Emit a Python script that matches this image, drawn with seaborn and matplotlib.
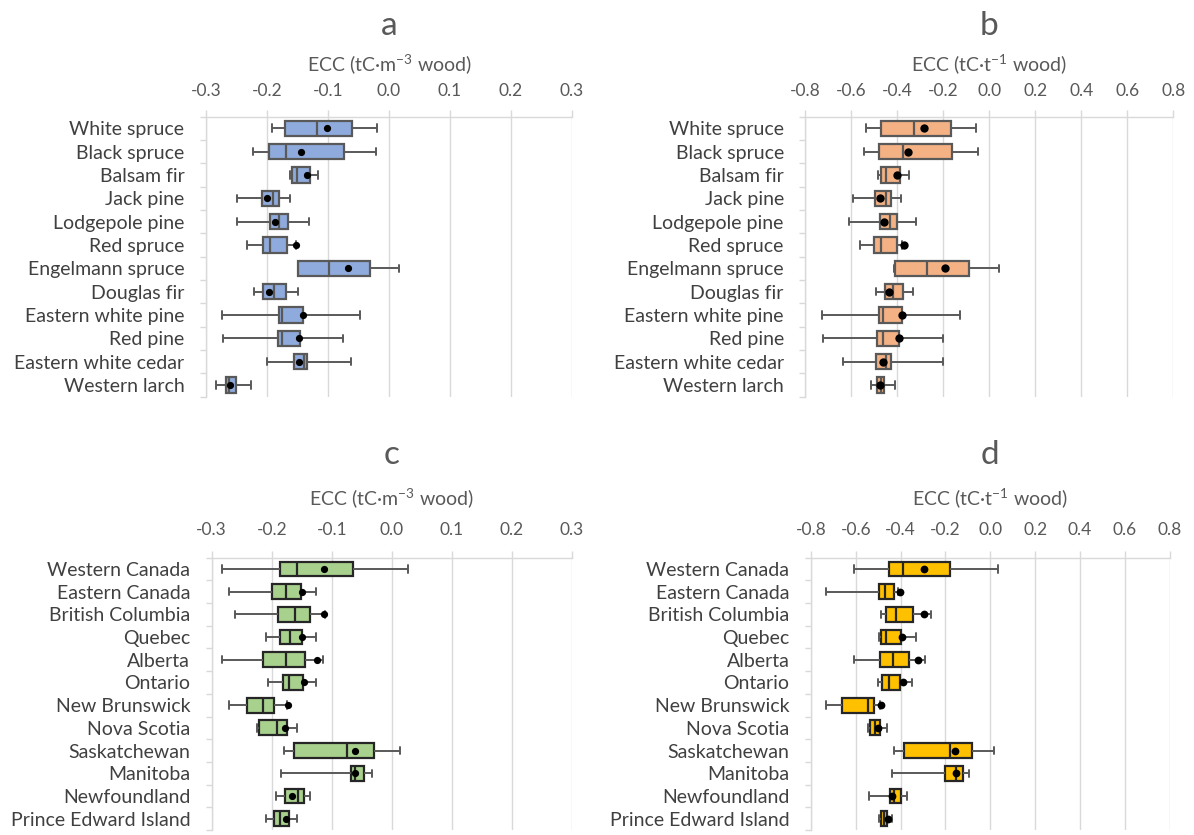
import numpy as np
import pandas as pd
import matplotlib
matplotlib.use("Agg")
import matplotlib.pyplot as plt
from matplotlib.ticker import FormatStrFormatter, MultipleLocator
import seaborn as sns

# ---- species (panels a, b) ----
species = ["White spruce", "Black spruce", "Balsam fir", "Jack pine", "Lodgepole pine",
           "Red spruce", "Engelmann spruce", "Douglas fir", "Eastern white pine",
           "Red pine", "Eastern white cedar", "Western larch"]

# ECC per unit volume (tC m-3 wood)
vol_lo   = [-0.192, -0.223, -0.162, -0.249, -0.249, -0.232, -0.150, -0.221, -0.273, -0.272, -0.200, -0.284]
vol_q1   = [-0.170, -0.197, -0.159, -0.209, -0.195, -0.207, -0.149, -0.206, -0.180, -0.182, -0.155, -0.267]
vol_med  = [-0.118, -0.169, -0.151, -0.190, -0.180, -0.195, -0.099, -0.188, -0.175, -0.175, -0.139, -0.263]
vol_q3   = [-0.060, -0.073, -0.130, -0.180, -0.165, -0.167, -0.031, -0.169, -0.141, -0.146, -0.135, -0.251]
vol_hi   = [-0.020, -0.021, -0.117, -0.163, -0.131, -0.152, 0.016, -0.150, -0.047, -0.076, -0.062, -0.226]
vol_mean = [-0.102, -0.145, -0.134, -0.200, -0.187, -0.153, -0.068, -0.197, -0.141, -0.147, -0.147, -0.261]

# ECC per unit mass (tC t-1 wood)
mass_lo   = [-0.536, -0.545, -0.485, -0.591, -0.609, -0.562, -0.413, -0.493, -0.729, -0.723, -0.635, -0.514]
mass_q1   = [-0.472, -0.480, -0.472, -0.497, -0.475, -0.501, -0.412, -0.453, -0.478, -0.487, -0.493, -0.487]
mass_med  = [-0.327, -0.374, -0.448, -0.450, -0.432, -0.472, -0.272, -0.417, -0.461, -0.464, -0.450, -0.471]
mass_q3   = [-0.168, -0.161, -0.387, -0.426, -0.403, -0.401, -0.088, -0.374, -0.381, -0.391, -0.427, -0.458]
mass_hi   = [-0.058, -0.050, -0.349, -0.385, -0.319, -0.380, 0.043, -0.330, -0.127, -0.203, -0.200, -0.409]
mass_mean = [-0.284, -0.355, -0.400, -0.474, -0.458, -0.370, -0.191, -0.438, -0.378, -0.394, -0.464, -0.474]

# ---- regions (panels c, d) ----
regions = ["Western Canada", "Eastern Canada", "British Columbia", "Quebec", "Alberta",
           "Ontario", "New Brunswick", "Nova Scotia", "Saskatchewan", "Manitoba",
           "Newfoundland", "Prince Edward Island"]

reg_vol_lo   = [-0.283, -0.272, -0.262, -0.209, -0.283, -0.207, -0.272, -0.224, -0.180, -0.185, -0.193, -0.209]
reg_vol_q1   = [-0.187, -0.199, -0.189, -0.186, -0.215, -0.181, -0.241, -0.221, -0.163, -0.068, -0.178, -0.196]
reg_vol_med  = [-0.158, -0.176, -0.161, -0.169, -0.177, -0.171, -0.215, -0.191, -0.074, -0.062, -0.156, -0.186]
reg_vol_q3   = [-0.065, -0.152, -0.136, -0.149, -0.145, -0.148, -0.197, -0.175, -0.030, -0.046, -0.146, -0.172]
reg_vol_hi   = [0.027, -0.127, -0.111, -0.127, -0.114, -0.126, -0.175, -0.158, 0.014, -0.033, -0.136, -0.158]
reg_vol_mean = [-0.113, -0.150, -0.113, -0.150, -0.124, -0.147, -0.173, -0.178, -0.062, -0.062, -0.166, -0.177]

reg_mass_lo   = [-0.607, -0.733, -0.489, -0.495, -0.607, -0.500, -0.733, -0.545, -0.429, -0.437, -0.541, -0.497]
reg_mass_q1   = [-0.451, -0.498, -0.466, -0.489, -0.492, -0.482, -0.663, -0.537, -0.387, -0.202, -0.446, -0.489]
reg_mass_med  = [-0.388, -0.470, -0.420, -0.466, -0.433, -0.454, -0.545, -0.513, -0.179, -0.155, -0.431, -0.476]
reg_mass_q3   = [-0.180, -0.428, -0.344, -0.397, -0.363, -0.403, -0.518, -0.491, -0.083, -0.123, -0.400, -0.460]
reg_mass_hi   = [0.033, -0.410, -0.265, -0.330, -0.291, -0.351, -0.490, -0.463, 0.015, -0.094, -0.370, -0.440]
reg_mass_mean = [-0.297, -0.402, -0.296, -0.393, -0.321, -0.388, -0.488, -0.500, -0.158, -0.155, -0.437, -0.457]

vol_ticks = [-0.3, -0.2, -0.1, 0.0, 0.1, 0.2, 0.3]
mass_ticks = [-0.8, -0.6, -0.4, -0.2, 0.0, 0.2, 0.4, 0.6, 0.8]

sns.set_style("white")
plt.rcParams["font.family"] = ["Lato", "DejaVu Sans"]
plt.rcParams["axes.unicode_minus"] = False
plt.rcParams["mathtext.default"] = "regular"

W, H = 1194, 835
fig = plt.figure(figsize=(W / 100, H / 100), dpi=100)

GRID = "#d9d9d9"
TXT = "#595959"
LBL = "#404040"


def five_number_frame(labels, lo, q1, med, q3, hi):
    rows = []
    for lab, vals in zip(labels, zip(lo, q1, med, q3, hi)):
        for v in vals:
            rows.append((lab, v))
    return pd.DataFrame(rows, columns=["group", "ecc"])


def panel(rect_px, letter, xlabel, labels, lo, q1, med, q3, hi, mean, ticks,
          fill, edge, dot, offs):
    x0, y0, x1, y1 = rect_px
    ax = fig.add_axes([x0 / W, 1 - y1 / H, (x1 - x0) / W, (y1 - y0) / H])
    df = five_number_frame(labels, lo, q1, med, q3, hi)
    sns.boxplot(data=df, x="ecc", y="group", order=labels, orient="h", ax=ax,
                whis=(0, 100), width=0.65, color=fill, saturation=1,
                linecolor=edge, linewidth=1.6, showfliers=False,
                whiskerprops={"color": "#595959", "linewidth": 1.4},
                capprops={"color": "#595959", "linewidth": 1.4})
    sns.stripplot(x=mean, y=labels, order=labels, orient="h", jitter=False,
                  color="black", size=dot, linewidth=0, ax=ax, zorder=6)
    n = len(labels)
    ax.set_xlim(ticks[0], ticks[-1])
    ax.set_ylim(n - 0.5, -0.5)
    ax.set_xticks(ticks)
    ax.xaxis.set_major_formatter(FormatStrFormatter("%.1f"))
    ax.xaxis.tick_top()
    ax.tick_params(axis="x", which="major", top=True, bottom=False, direction="out",
                   length=5, width=1, color=GRID, pad=offs[2], labelsize=12.5,
                   labelcolor=TXT)
    ax.set_yticks(range(n))
    ax.set_yticklabels(labels)
    ax.set_yticks(np.arange(-0.5, n, 1.0), minor=True)
    ax.tick_params(axis="y", which="major", left=False, length=0, pad=15.5,
                   labelsize=14, labelcolor=LBL)
    ax.tick_params(axis="y", which="minor", left=True, direction="out", length=4,
                   width=1, color=GRID)
    ax.set_ylabel("")
    ax.set_xlabel(xlabel, fontsize=14, color=TXT)
    ax.xaxis.set_label_position("top")
    hpx = y1 - y0
    ax.xaxis.set_label_coords(0.5, 1 + offs[1] / hpx)
    ax.xaxis.label.set_va("center")
    ax.text(0.5, 1 + offs[0] / hpx, letter, transform=ax.transAxes, ha="center",
            va="center", fontsize=24, color=TXT)
    ax.grid(axis="x", color=GRID, linewidth=1)
    ax.grid(axis="y", visible=False)
    ax.set_axisbelow(True)
    for side in ("right", "bottom"):
        ax.spines[side].set_visible(False)
    for side in ("top", "left"):
        ax.spines[side].set_visible(True)
        ax.spines[side].set_color(GRID)
        ax.spines[side].set_linewidth(1)
    return ax


vol_label = "ECC (tC\u00b7m$^{-3}$ wood)"
mass_label = "ECC (tC\u00b7t$^{-1}$ wood)"

panel((206, 116.6, 572, 396.7), "a", vol_label, species,
      vol_lo, vol_q1, vol_med, vol_q3, vol_hi, vol_mean, vol_ticks,
      "#8FAADC", "#595959", 5.2, (91, 53, 8))
panel((805.3, 116.6, 1173.3, 396.7), "b", mass_label, species,
      mass_lo, mass_q1, mass_med, mass_q3, mass_hi, mass_mean, mass_ticks,
      "#F4B183", "#595959", 6.0, (91, 53, 8))
panel((211.7, 557.6, 571.7, 830), "c", vol_label, regions,
      reg_vol_lo, reg_vol_q1, reg_vol_med, reg_vol_q3, reg_vol_hi, reg_vol_mean, vol_ticks,
      "#A9D18E", "#262626", 5.2, (103, 60, 9))
panel((811, 557.6, 1169.5, 830), "d", mass_label, regions,
      reg_mass_lo, reg_mass_q1, reg_mass_med, reg_mass_q3, reg_mass_hi, reg_mass_mean, mass_ticks,
      "#FFC000", "#262626", 5.6, (103, 60, 9))

fig.savefig("out.png", dpi=100)
